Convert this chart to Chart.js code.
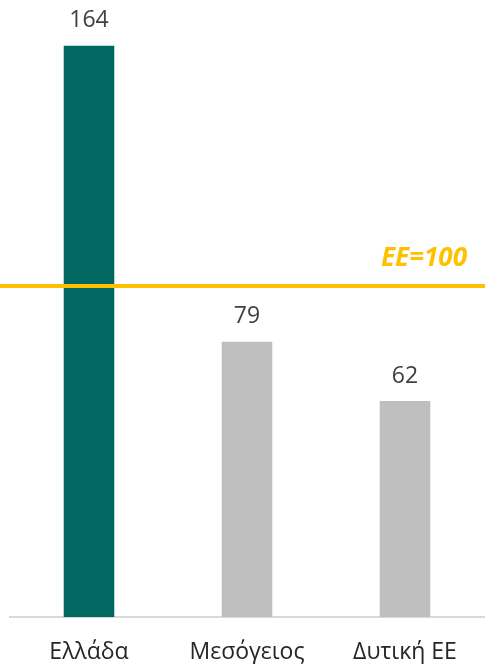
<!DOCTYPE html>
<html>
<head>
<meta charset="utf-8">
<script src="https://cdn.jsdelivr.net/npm/chart.js@4.4.1/dist/chart.umd.min.js"></script>
<style>
  html, body { margin: 0; padding: 0; background: #fff; }
  #wrap { width: 494px; height: 665px; position: relative; }
</style>
</head>
<body>
<div id="wrap"><canvas id="c" width="494" height="665"></canvas></div>
<script>
const categories = ["Ελλάδα", "Μεσόγειος", "Δυτική ΕΕ"];
const values = [164, 79, 62];
const barColors = ["#006860", "#BFBFBF", "#BFBFBF"];
const refLineValue = 95;      // position of the reference line
const refLineLabel = "EE=100";

const FONT = "'Open Sans', 'Noto Sans', sans-serif";

const overlay = {
  id: 'overlay',
  afterDatasetsDraw(chart) {
    const ctx = chart.ctx;
    const y = chart.scales.y;
    const area = chart.chartArea;
    const meta = chart.getDatasetMeta(0);
    ctx.save();
    const ly = y.getPixelForValue(refLineValue);
    ctx.strokeStyle = "#FFC000";
    ctx.lineWidth = 4;
    ctx.beginPath();
    ctx.moveTo(0, ly);
    ctx.lineTo(area.right + 1, ly);
    ctx.stroke();
    ctx.fillStyle = "#FFC000";
    ctx.font = "italic bold 26px " + FONT;
    ctx.textAlign = "right";
    ctx.textBaseline = "middle";
    ctx.fillText(refLineLabel, area.right - 17, ly - 28);
    ctx.fillStyle = "#404040";
    ctx.font = "23px " + FONT;
    ctx.textAlign = "center";
    meta.data.forEach((bar, i) => {
      ctx.fillText(String(values[i]), bar.x, bar.y - 25);
    });
    ctx.restore();
  }
};

new Chart(document.getElementById('c'), {
  type: 'bar',
  data: {
    labels: categories,
    datasets: [{
      data: values,
      backgroundColor: barColors,
      borderWidth: 0,
      barPercentage: 0.32,
      categoryPercentage: 1.0
    }]
  },
  options: {
    responsive: false,
    animation: false,
    devicePixelRatio: 1,
    layout: { padding: { left: 10, right: 10, top: 4, bottom: 1 } },
    plugins: { legend: { display: false }, tooltip: { enabled: false } },
    scales: {
      y: {
        display: false,
        min: 0,
        max: 176
      },
      x: {
        grid: { display: false, drawTicks: false },
        border: { display: true, color: "#D9D9D9", width: 2 },
        ticks: {
          color: "#262626",
          font: { family: FONT, size: 23 },
          padding: 22
        },
        afterFit(scale) { scale.height = 47; }
      }
    }
  },
  plugins: [overlay]
});
</script>
</body>
</html>
